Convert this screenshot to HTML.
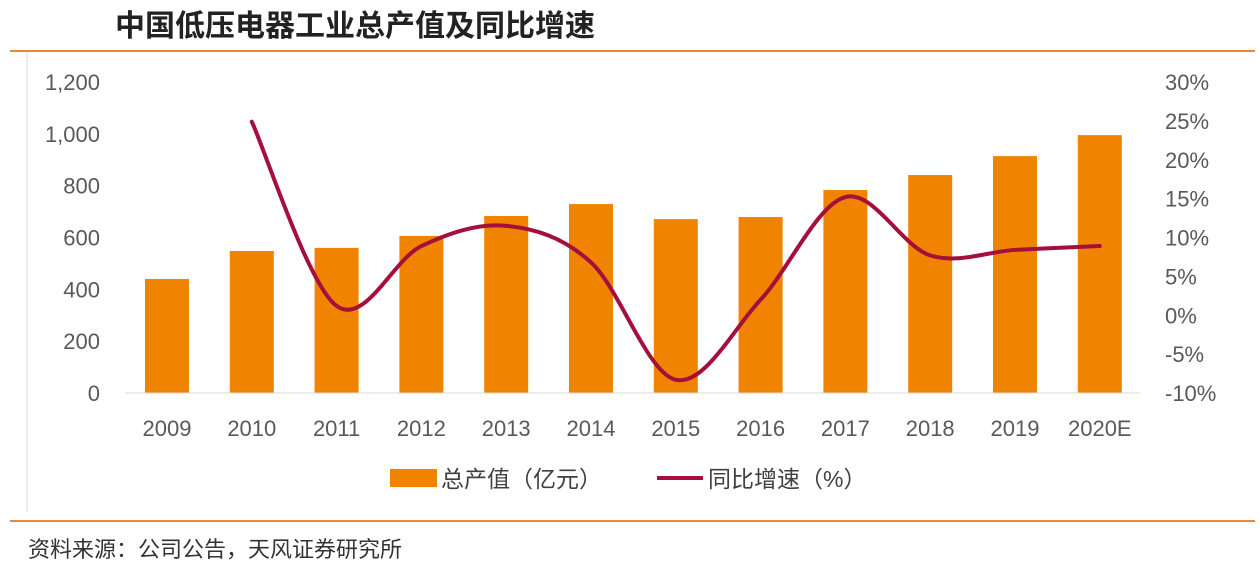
<!DOCTYPE html>
<html><head><meta charset="utf-8">
<style>
body{margin:0;background:#fff;}
svg text{font-family:"Liberation Sans","Noto Sans CJK SC",sans-serif;}
</style></head>
<body>
<svg id="c" width="1260" height="574" viewBox="0 0 1260 574" xmlns="http://www.w3.org/2000/svg">
<text x="115" y="36" font-size="30" font-weight="bold" fill="#222">中国低压电器工业总产值及同比增速</text>
<line x1="10" y1="51" x2="1255" y2="51" stroke="#E8893A" stroke-width="2"/>
<line x1="27" y1="52" x2="27" y2="512" stroke="#ddd" stroke-width="1"/>
<line x1="10" y1="521" x2="1255" y2="521" stroke="#E8893A" stroke-width="2"/>
<text x="28" y="557" font-size="22" fill="#333">资料来源：公司公告，天风证券研究所</text>
<g id="plot"></g>
<g>
<rect x="390" y="469" width="47" height="18" fill="#F08300"/>
<text x="441" y="487" font-size="23" fill="#404040">总产值（亿元）</text>
<line x1="657" y1="478" x2="703" y2="478" stroke="#A50F3C" stroke-width="4"/>
<text x="708" y="487" font-size="23" fill="#404040">同比增速（%）</text>
</g>
</svg>
<script>
const categories=["2009","2010","2011","2012","2013","2014","2015","2016","2017","2018","2019","2020E"];
const output=[440,548,560,606,683,729,671,679,783,841,914,995];
const growth=[null,24.9,1.2,8.9,11.5,6.8,-8.3,2.0,15.2,7.7,8.4,8.9];
const leftTicks=[0,200,400,600,800,1000,1200];
const rightTicks=[-10,-5,0,5,10,15,20,25,30];
const NS="http://www.w3.org/2000/svg";
const g=document.getElementById('plot');
const y0=393,y1=82;
function yL(v){return y0-(v/1200)*(y0-y1);}
function yR(v){return y0-((v+10)/40)*(y0-y1);}
function xC(i){return 167+i*84.8;}
function mk(t,a){const e=document.createElementNS(NS,t);for(const k in a)e.setAttribute(k,a[k]);g.appendChild(e);return e;}
leftTicks.forEach(v=>{const t=mk('text',{x:100,y:yL(v)+8,'font-size':22,fill:'#595959','text-anchor':'end'});


t.textContent=v.toLocaleString('en-US');});
rightTicks.forEach(v=>{const t=mk('text',{x:1165,y:yR(v)+8,'font-size':22,fill:'#595959'});


t.textContent=v+'%';});
output.forEach((v,i)=>{const r=mk('rect',{x:xC(i)-22,y:yL(v),width:44,height:y0-yL(v),fill:'#F08300'});

});
const base=mk('line',{x1:125,y1:y0,x2:1140,y2:y0,stroke:'#d9d9d9','stroke-width':1});


categories.forEach((c,i)=>{const t=mk('text',{x:xC(i),y:436,'font-size':22,fill:'#595959','text-anchor':'middle'});


t.textContent=c;});
const pts=[];growth.forEach((v,i)=>{if(v!==null)pts.push([xC(i),yR(v)]);});
let d='M'+pts[0][0]+','+pts[0][1];
for(let i=0;i<pts.length-1;i++){const p0=pts[Math.max(0,i-1)],p1=pts[i],p2=pts[i+1],p3=pts[Math.min(pts.length-1,i+2)];
const c1=[p1[0]+(p2[0]-p0[0])/6,p1[1]+(p2[1]-p0[1])/6],c2=[p2[0]-(p3[0]-p1[0])/6,p2[1]-(p3[1]-p1[1])/6];
d+=' C'+c1+' '+c2+' '+p2;}
const ln=mk('path',{d:d,fill:'none',stroke:'#A50F3C','stroke-width':4,'stroke-linecap':'round'});


</script>
</body></html>
